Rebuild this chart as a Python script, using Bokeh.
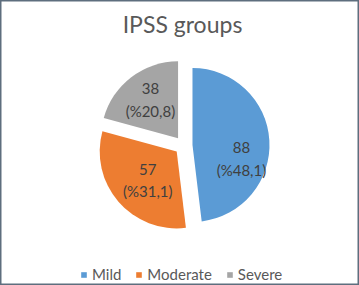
import math
from bokeh.plotting import figure
from bokeh.models import ColumnDataSource, Legend, LegendItem
from bokeh.core.properties import value
from bokeh.embed import file_html
from bokeh.resources import INLINE

# ---- data ----
title_text = "IPSS groups"
categories = ["Mild", "Moderate", "Severe"]
counts = [88, 57, 38]
percents = ["48,1", "31,1", "20,8"]
colors = ["#5B9BD5", "#ED7D31", "#A5A5A5"]

# ---- layout ----
W, H = 359, 285
cx, cy = 183, 140          # pie centre (data units == pixels, y up)
R = 77
explode = 9
label_dist = [0.66, 0.53, 0.62]
label_shift_deg = [-19, 4, -2]
FONT = "Lato"

total = sum(counts)
starts, ends, xs, ys, lx, ly, texts = [], [], [], [], [], [], []
acc = 0
for i, c in enumerate(counts):
    s = math.pi / 2 - 2 * math.pi * acc / total
    acc += c
    e = math.pi / 2 - 2 * math.pi * acc / total
    m = (s + e) / 2
    x0 = cx + explode * math.cos(m)
    y0 = cy + explode * math.sin(m)
    starts.append(s); ends.append(e); xs.append(x0); ys.append(y0)
    lm = m + math.radians(label_shift_deg[i])
    lx.append(x0 + label_dist[i] * R * math.cos(lm))
    ly.append(y0 + label_dist[i] * R * math.sin(lm))
    texts.append(f"{c}\n(%{percents[i]})")

src = ColumnDataSource(dict(x=xs, y=ys, s=starts, e=ends, color=colors,
                            cat=categories, lx=lx, ly=ly, t=texts))

p = figure(width=W, height=H, x_range=(0, W), y_range=(0, H),
           output_backend="svg", toolbar_location=None, min_border=0)
p.axis.visible = False
p.grid.visible = False
p.outline_line_color = "#5E6E7E"
p.outline_line_width = 2
p.background_fill_color = "white"
p.border_fill_color = "white"

r = p.wedge(x="x", y="y", radius=R, start_angle="s", end_angle="e",
            direction="clock", fill_color="color", line_color=None, source=src)

p.text(x="lx", y="ly", text="t", source=src, text_align="center",
       text_baseline="middle", text_font=value(FONT), text_font_size="15px",
       text_color="#404040", text_line_height=1.25)

p.text(x=[182], y=[H - 23], text=[title_text], text_align="center",
       text_baseline="alphabetic", text_font=value(FONT), text_font_size="23px",
       text_color="#595959")

items = [LegendItem(label=cat, renderers=[r], index=i) for i, cat in enumerate(categories)]
legend = Legend(items=items, orientation="horizontal", location=(80, 2),
                glyph_width=7, glyph_height=7, label_standoff=5, spacing=14,
                padding=0, margin=0, label_text_font=FONT,
                label_text_font_size="15px", label_text_color="#595959",
                border_line_color=None, background_fill_alpha=0)
p.add_layout(legend)

open("out.html", "w").write(file_html(p, INLINE))
